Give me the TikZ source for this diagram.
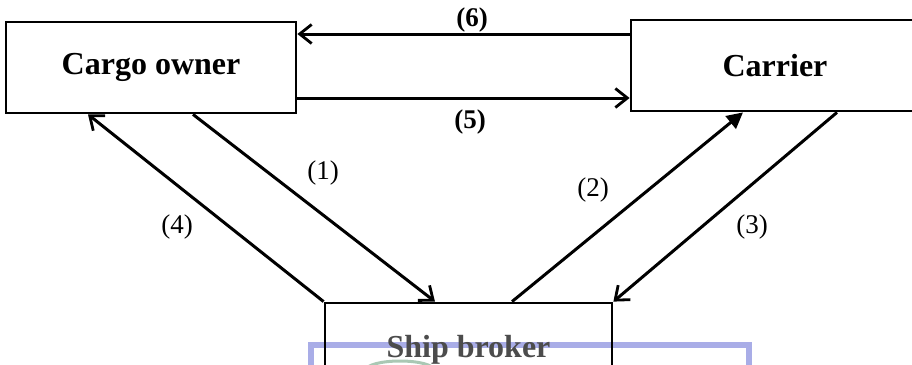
\documentclass[tikz,border=0pt]{standalone}
\usepackage{fontspec}
\setmainfont{Liberation Serif}
\usetikzlibrary{arrows.meta}
\definecolor{selblue}{RGB}{160,164,228}
\definecolor{arcgreen}{RGB}{170,200,180}
\tikzset{
  party/.style={draw, line width=2.8pt, inner sep=0pt, font=\fontsize{32}{36}\selectfont\bfseries},
  flow/.style={line width=3pt, -{Straight Barb[length=12pt,width=19pt,line width=2.8pt]}},
  flowfill/.style={line width=3pt, -{Triangle[length=16pt,width=16pt]}},
  lbl/.style={font=\fontsize{27}{30}\selectfont, inner sep=0pt},
  lblb/.style={font=\fontsize{27}{30}\selectfont\bfseries, inner sep=0pt},
}
\begin{document}
\begin{tikzpicture}[x=1pt,y=-1pt]
\useasboundingbox (0,0) rectangle (912,364);
\clip (0,0) rectangle (912,364);

% highlight frame behind the lower box
\draw[selblue, line width=6pt, opacity=0.9] (311,400) |- (749,345) -- (749,400);
\draw[arcgreen, line width=3pt] (366,370) arc[start angle=180, end angle=0, x radius=34pt, y radius=9pt];

% the three parties
\node[party, minimum width=290pt, minimum height=91pt] (co) at (151,67.5) {Cargo owner};
\node[party, minimum width=288pt, minimum height=91pt] (ca) at (775,65.5) {Carrier};
\node[party, minimum width=287pt, minimum height=94pt, text=black!70] (sb) at (468.5,350) {Ship broker};

% flows between cargo owner and carrier
\draw[flow] ([yshift=31.5pt]ca.west) -- ([yshift=33.5pt]co.east);
\draw[flow] ([yshift=-30.5pt]co.east) -- ([yshift=-32.5pt]ca.west);

% flows through the ship broker
\draw[flow] ([xshift=42pt]co.south) -- ([xshift=-33.5pt]sb.north);
\draw[flowfill] ([xshift=43.5pt]sb.north) -- ([xshift=-32pt]ca.south);
\draw[flow] ([xshift=62pt]ca.south) -- (sb.north east);
\draw[flow] (sb.north west) -- ([xshift=-63pt]co.south);

% step numbers
\node[lblb] (n6) at (472,20) {(6)};
\node[lblb] (n5) at (470,122) {(5)};
\node[lbl] (n1) at (323,173) {(1)};
\node[lbl] (n4) at (177,227) {(4)};
\node[lbl] (n2) at (593,190) {(2)};
\node[lbl] (n3) at (752,227) {(3)};
\end{tikzpicture}
\end{document}
